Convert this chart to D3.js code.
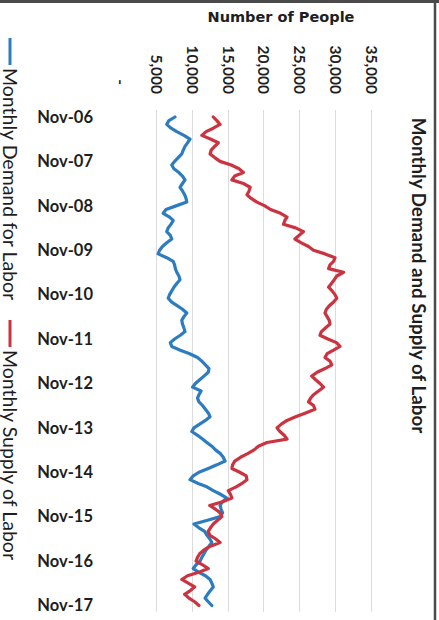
<!DOCTYPE html>
<html>
<head>
<meta charset="utf-8">
<script src="https://cdn.jsdelivr.net/npm/d3@7"></script>
<style>
  html, body { margin: 0; padding: 0; background: #ffffff; }
  svg { display: block; }
</style>
</head>
<body>
<svg id="chart" width="439" height="620"></svg>
<script>
// Monthly series, November 2006 through November 2017 (133 months)
const firstMonth = [2006, 10]; // year, zero-based month (November)

const demand = [
  7650, 6800, 6500, 7100, 7900, 8900, 9750, 9400, 9050, 8800, 8600, 8100,
  7600, 7200, 7500, 8200, 8700, 9050, 8700, 8350, 8700, 9000, 9200, 9300,
  7800, 6400, 6000, 6900, 7400, 7100, 6700, 6500, 7000, 7200, 6500, 5900,
  5500, 5300, 6500, 7400, 7600, 7700, 7900, 8200, 8350, 7900, 7500, 7200,
  6900, 6700, 7200, 8000, 8700, 9300, 8900, 8600, 8700, 8900, 9050, 8400,
  7600, 7000, 7200, 8400, 9700, 10800, 11400, 11900, 12400, 12300, 11700, 11100,
  10500, 10100, 11300, 11000, 10800, 11000, 11500, 11900, 12300, 12550, 11900, 11100,
  10300, 10000, 10800, 11500, 12100, 12800, 13300, 14000, 14400, 14650, 13500, 12300,
  11000, 10200, 9750, 10900, 12100, 13000, 14000, 14900, 14300, 13950, 14100, 14300,
  13950, 12200, 10300, 11000, 11800, 12100, 12500, 12800, 12400, 12000, 11700, 11400,
  11150, 10600, 10200, 11000, 11900, 12550, 12800, 13000, 12600, 12200, 11850, 12300,
  12800
];

const supply = [
  13000, 13500, 13950, 13000, 12000, 11400, 12600, 13700, 13200, 12700, 12550, 13200,
  13950, 15500, 16600, 17200, 16000, 15600, 17200, 18150, 18000, 17700, 18300, 19100,
  20200, 21000, 22400, 23300, 23000, 22800, 24500, 25600, 25000, 24400, 25300, 26300,
  27000, 28600, 30000, 29800, 29300, 29100, 31200, 30250, 29900, 29500, 29100, 29600,
  30000, 30250, 29800, 29200, 28800, 28600, 28900, 29200, 29300, 28700, 28100, 27900,
  29000, 30200, 30700, 29800, 28900, 28600, 29300, 29550, 28600, 27500, 26750, 27300,
  27900, 28400, 27700, 27000, 26600, 26300, 27000, 27200, 25900, 24500, 23300, 22500,
  21900, 22300, 22900, 23300, 20500, 19300, 18700, 17800, 16800, 16000, 15700, 15600,
  16700, 17600, 17700, 17000, 16200, 15100, 15400, 15600, 14300, 12500, 13300, 14000,
  14200, 13600, 13000, 12600, 12300, 12500, 13300, 13950, 12600, 11700, 11100, 10800,
  10600, 11500, 12300, 11000, 9400, 8600, 9500, 10400, 9800, 9000, 9600, 10400,
  11000
];

const seriesNames = ["Monthly Demand for Labor", "Monthly Supply of Labor"];
const seriesColors = ["#2e7cc0", "#cc3340"];
const valueTicks = [0, 5000, 10000, 15000, 20000, 25000, 30000, 35000];
const yearTickLabels = ["Nov-06", "Nov-07", "Nov-08", "Nov-09", "Nov-10", "Nov-11",
                        "Nov-12", "Nov-13", "Nov-14", "Nov-15", "Nov-16", "Nov-17"];
const chartTitle = "Monthly Demand and Supply of Labor";
const valueAxisTitle = "Number of People";

const svg = d3.select("#chart");
const FONT = "Lato, 'Open Sans', sans-serif";

// Build month-by-month records
const months = demand.map((_, i) => new Date(firstMonth[0], firstMonth[1] + i, 1));
const rows = months.map((m, i) => ({ date: m, demand: demand[i], supply: supply[i] }));
const yearTickDates = yearTickLabels.map((_, i) => new Date(firstMonth[0] + i, firstMonth[1], 1));

// The chart is laid out sideways: time runs down the page, people run across it
const t = d3.scaleTime()
  .domain([months[0], months[months.length - 1]])
  .range([117, 605.5]);
const v = d3.scaleLinear()
  .domain([0, 35000])
  .range([120.2, 370.8]);

// Frame lines along the top and right edges
svg.append("line").attr("x1", 0).attr("x2", 439).attr("y1", 1.5).attr("y2", 1.5)
  .attr("stroke", "#4a4a4a").attr("stroke-width", 3);
svg.append("line").attr("x1", 435).attr("x2", 435).attr("y1", 0).attr("y2", 620)
  .attr("stroke", "#4a4a4a").attr("stroke-width", 2.5);

// Gridlines
svg.append("g")
  .selectAll("line")
  .data(valueTicks.filter(d => d > 0))
  .join("line")
  .attr("x1", d => Math.round(v(d)) + 0.5)
  .attr("x2", d => Math.round(v(d)) + 0.5)
  .attr("y1", 110)
  .attr("y2", 612)
  .attr("stroke", "#dcdcdc")
  .attr("stroke-width", 1);

// Value axis across the top, labels turned to read downward
const valueAxis = d3.axisTop(v)
  .tickValues(valueTicks)
  .tickSize(0)
  .tickPadding(0)
  .tickFormat(d => d === 0 ? "-" : d3.format(",")(d));
const vAxisG = svg.append("g").attr("transform", "translate(0,94)").call(valueAxis);
vAxisG.select(".domain").remove();
vAxisG.selectAll("text")
  .attr("transform", "rotate(90)")
  .attr("x", d => d === 0 ? -9 : 0)
  .attr("y", 0)
  .attr("dy", "0.35em")
  .attr("text-anchor", "end")
  .attr("font-family", FONT)
  .attr("font-weight", 700)
  .attr("font-size", 15.5)
  .attr("fill", "#1e1e1e");

svg.append("text")
  .attr("x", 281)
  .attr("y", 22)
  .attr("text-anchor", "middle")
  .attr("font-family", "'DejaVu Sans', sans-serif")
  .attr("font-weight", 700)
  .attr("font-size", 14.5)
  .attr("fill", "#1e1e1e")
  .text(valueAxisTitle);

// Time axis down the left side
const timeAxis = d3.axisLeft(t)
  .tickValues(yearTickDates)
  .tickSize(0)
  .tickPadding(0)
  .tickFormat((d, i) => yearTickLabels[i]);
const tAxisG = svg.append("g").attr("transform", "translate(93,0)").call(timeAxis);
tAxisG.select(".domain").remove();
tAxisG.selectAll("text")
  .attr("font-family", FONT)
  .attr("font-weight", 700)
  .attr("font-size", 16.5)
  .attr("fill", "#1e1e1e");

// Series lines
const series = [
  { name: seriesNames[0], key: "demand", color: seriesColors[0] },
  { name: seriesNames[1], key: "supply", color: seriesColors[1] }
];
series.forEach(s => {
  const line = d3.line()
    .x(d => v(d[s.key]))
    .y(d => t(d.date))
    .curve(d3.curveLinear);
  svg.append("path")
    .datum(rows)
    .attr("d", line)
    .attr("fill", "none")
    .attr("stroke", s.color)
    .attr("stroke-width", 3.2)
    .attr("stroke-linejoin", "round")
    .attr("stroke-linecap", "round");
});

// Legend along the left edge, reading downward
const legendStarts = [38, 320];
series.forEach((s, i) => {
  const g = svg.append("g").attr("transform", `translate(10,${legendStarts[i]}) rotate(90)`);
  g.append("line").attr("x1", 0).attr("x2", 27).attr("y1", 0).attr("y2", 0)
    .attr("stroke", s.color).attr("stroke-width", 3);
  g.append("text")
    .attr("x", 30)
    .attr("y", 7)
    .attr("font-family", FONT)
    .attr("font-size", 19.5)
    .attr("fill", "#1e1e1e")
    .text(s.name);
});

// Chart title down the right side
svg.append("text")
  .attr("transform", "translate(412,275.5) rotate(90)")
  .attr("text-anchor", "middle")
  .attr("font-family", FONT)
  .attr("font-weight", 700)
  .attr("font-size", 18.8)
  .attr("fill", "#1e1e1e")
  .text(chartTitle);
</script>
</body>
</html>
